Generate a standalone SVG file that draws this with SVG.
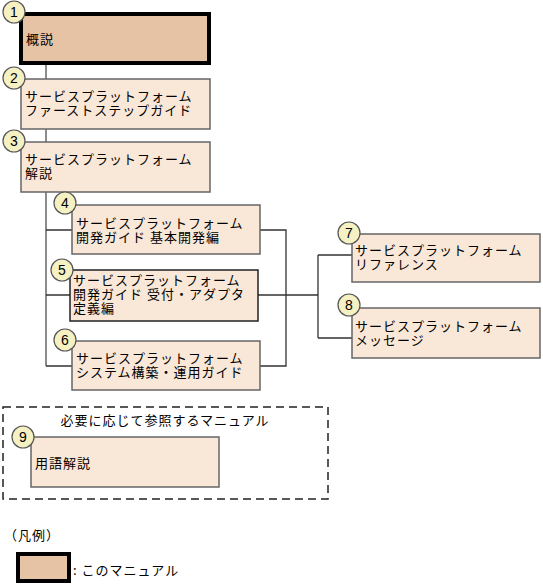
<svg xmlns="http://www.w3.org/2000/svg" width="543" height="584" viewBox="0 0 543 584">
<style>
text{font-family:"Noto Sans CJK JP","Noto Sans CJK SC",sans-serif;font-size:13px;letter-spacing:1px;fill:#000}
.box{fill:#F9E7D8;stroke:#666;stroke-width:1.5}
.main{fill:#E6C3A4;stroke:#000;stroke-width:4}
.num{fill:#F5F1C2;stroke:#555;stroke-width:1.2}
.nt{font-family:"Liberation Sans",Arial,sans-serif;font-size:14px;letter-spacing:0;text-anchor:middle}
.ln{fill:none;stroke:#333;stroke-width:1.3}
.tr{fill:none;stroke:#666;stroke-width:1.5}
</style>
<rect width="543" height="584" fill="#fff"/>
<g id="connectors">
<path class="tr" d="M46,63 V366"/>
<path class="ln" d="M46,230 H72 M46,295 H70 M46,366 H72"/>
<path class="ln" d="M260,230 H286 V366 H260 M258,295 H318 M318,255 V338 M318,255 H352 M318,338 H352"/>
</g>
<g id="n1">
<rect class="main" x="21" y="14" width="188" height="49"/>
<text x="26" y="44">概説</text>
<circle class="num" cx="14" cy="12" r="11"/><text class="nt" x="14" y="17">1</text>
</g>
<g id="n2">
<rect class="box" x="21" y="79" width="189" height="50"/>
<text x="25" y="101">サービスプラットフォーム</text>
<text x="25" y="115">ファーストステップガイド</text>
<circle class="num" cx="14" cy="78" r="11"/><text class="nt" x="14" y="83">2</text>
</g>
<g id="n3">
<rect class="box" x="21" y="142" width="189" height="50"/>
<text x="25" y="164">サービスプラットフォーム</text>
<text x="25" y="178">解説</text>
<circle class="num" cx="14" cy="141" r="11"/><text class="nt" x="14" y="146">3</text>
</g>
<g id="n4">
<rect class="box" x="72" y="205" width="188" height="49"/>
<text x="76" y="228">サービスプラットフォーム</text>
<text x="76" y="242">開発ガイド 基本開発編</text>
<circle class="num" cx="65" cy="203" r="11"/><text class="nt" x="65" y="208">4</text>
</g>
<g id="n5">
<rect class="box" x="70" y="270" width="188" height="51" style="stroke:#222"/>
<text x="73" y="284.5">サービスプラットフォーム</text>
<text x="73" y="298.5">開発ガイド 受付・アダプタ</text>
<text x="73" y="312.5">定義編</text>
<circle class="num" cx="62" cy="270" r="11"/><text class="nt" x="62" y="275">5</text>
</g>
<g id="n6">
<rect class="box" x="72" y="341" width="188" height="49"/>
<text x="76" y="363">サービスプラットフォーム</text>
<text x="76" y="377">システム構築・運用ガイド</text>
<circle class="num" cx="65" cy="340" r="11"/><text class="nt" x="65" y="345">6</text>
</g>
<g id="n7">
<rect class="box" x="352" y="234" width="188" height="48"/>
<text x="355" y="255">サービスプラットフォーム</text>
<text x="355" y="269">リファレンス</text>
<circle class="num" cx="349" cy="233" r="11"/><text class="nt" x="349" y="238">7</text>
</g>
<g id="n8">
<rect class="box" x="352" y="308" width="188" height="50"/>
<text x="355" y="331">サービスプラットフォーム</text>
<text x="355" y="345">メッセージ</text>
<circle class="num" cx="349" cy="305" r="11"/><text class="nt" x="349" y="310">8</text>
</g>
<g id="group">
<rect x="3" y="407" width="325" height="92" fill="none" stroke="#222" stroke-width="1.5" stroke-dasharray="8,5"/>
<text x="165" y="425" text-anchor="middle">必要に応じて参照するマニュアル</text>
</g>
<g id="n9">
<rect class="box" x="31" y="437" width="188" height="50"/>
<text x="35" y="468">用語解説</text>
<circle class="num" cx="23" cy="437" r="11"/><text class="nt" x="23" y="442">9</text>
</g>
<g id="legend">
<text x="4" y="540">（凡例）</text>
<rect class="main" x="18" y="554" width="51" height="27"/>
<text x="73" y="575">: このマニュアル</text>
</g>
</svg>
